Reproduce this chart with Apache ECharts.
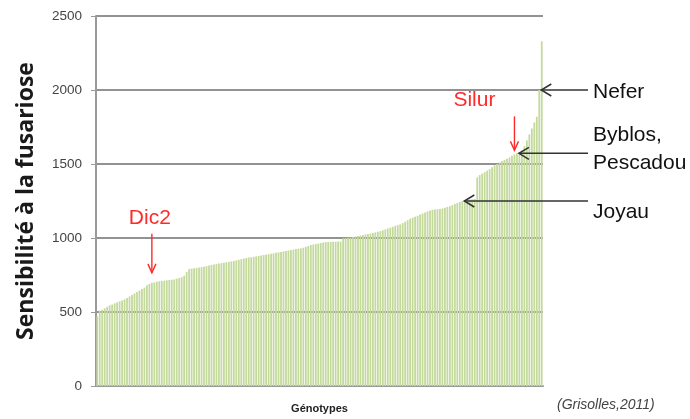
<!DOCTYPE html>
<html>
<head>
<meta charset="utf-8">
<script src="https://cdn.jsdelivr.net/npm/echarts@6/dist/echarts.min.js"></script>
<style>
  html, body { margin: 0; padding: 0; background: #fff; }
  #main { width: 690px; height: 419px; }
</style>
</head>
<body>
<div id="main"></div>
<script>
// sensibility values, genotypes sorted ascending
var values = [
    470, 510, 515, 525, 535, 545, 550, 558, 565, 572,
    578, 585, 595, 605, 615, 625, 635, 645, 655, 665,
    680, 690, 697, 700, 705, 708, 710, 712, 714, 716,
    718, 720, 725, 730, 735, 745, 770, 790, 793, 795,
    797, 800, 803, 806, 810, 814, 818, 821, 824, 827,
    830, 833, 836, 839, 842, 845, 849, 853, 857, 861,
    865, 868, 870, 873, 876, 879, 882, 885, 888, 890,
    893, 896, 900, 903, 906, 910, 913, 916, 919, 922,
    925, 928, 930, 934, 940, 946, 953, 956, 959, 962,
    966, 970, 972, 973, 974, 975, 975, 976, 976, 998,
    1000, 1002, 1004, 1006, 1010, 1013, 1016, 1020, 1024, 1027,
    1030, 1034, 1038, 1042, 1046, 1052, 1058, 1064, 1070, 1075,
    1082, 1087, 1092, 1100, 1110, 1120, 1130, 1137, 1144, 1150,
    1158, 1165, 1172, 1180, 1186, 1190, 1192, 1194, 1196, 1200,
    1205, 1210, 1215, 1222, 1230, 1237, 1244, 1250, 1254, 1258,
    1260, 1262, 1265, 1410, 1425, 1435, 1445, 1455, 1465, 1478,
    1490, 1500, 1510, 1520, 1528, 1536, 1545, 1555, 1565, 1572,
    1580, 1590, 1620, 1660, 1700, 1740, 1780, 1820, 2000, 2330
];
var genotypes = values.map(function (v, i) { return 'G' + (i + 1); });
var yTicks = [0, 500, 1000, 1500, 2000, 2500];

// annotated genotypes: index in the sorted list
var notes = [
    {name: 'Dic2', index: 22, color: '#ff2a2a', side: 'top', gap: 10, len: 39, textDx: -2},
    {name: 'Silur', index: 168, color: '#ff2a2a', side: 'top', gap: 4, len: 34, textDx: -40},
    {name: 'Joyau', index: 147, color: '#111', side: 'right', textY: 212},
    {name: 'Byblos,\nPescadou', index: 169, color: '#111', side: 'right', textY: 149},
    {name: 'Nefer', index: 178, color: '#111', side: 'right', textY: 92}
];

var myChart = echarts.init(document.getElementById('main'));

var option = {
    animation: false,
    grid: {left: 96, right: 147, top: 16, bottom: 33},
    xAxis: {
        type: 'category',
        data: genotypes,
        name: 'Génotypes',
        nameLocation: 'middle',
        nameGap: 17,
        nameTextStyle: {fontFamily: 'Liberation Sans', fontWeight: 'bold', fontSize: 11, color: '#222'},
        axisLine: {lineStyle: {color: '#9a9a9a', width: 2}},
        axisTick: {show: false},
        axisLabel: {show: false}
    },
    yAxis: {
        type: 'value',
        min: 0,
        max: 2500,
        interval: 500,
        name: 'Sensibilité à la fusariose',
        nameLocation: 'middle',
        nameGap: 58,
        nameTextStyle: {fontFamily: 'Open Sans', fontWeight: 'bold', fontSize: 23, color: '#1a1a1a'},
        axisLine: {show: true, lineStyle: {color: '#9a9a9a', width: 2}},
        axisTick: {show: true, length: 5, lineStyle: {color: '#9a9a9a', width: 1}},
        axisLabel: {
            fontFamily: 'Liberation Sans', fontSize: 13.5, color: '#444', margin: 14,
            formatter: function (v) { return yTicks.indexOf(v) >= 0 ? String(v) : ''; }
        },
        splitLine: {lineStyle: {color: '#929292', width: 2}}
    },
    series: [{
        type: 'bar',
        data: values,
        barCategoryGap: '28%',
        itemStyle: {color: '#c4d99c'}
    }]
};
myChart.setOption(option);

// annotations with arrows, placed from the data coordinates
var graphics = [];
var textStyle = {fontFamily: 'Liberation Sans', fontSize: 21};
notes.forEach(function (n) {
    var p = myChart.convertToPixel({seriesIndex: 0}, [n.index, values[n.index]]);
    if (n.side === 'top') {
        var x = p[0], y2 = p[1] - n.gap, y1 = y2 - n.len;
        graphics.push({type: 'line', z: 100, shape: {x1: x, y1: y1, x2: x, y2: y2}, style: {stroke: n.color, lineWidth: 1.4}});
        graphics.push({type: 'polyline', z: 100, shape: {points: [[x - 4, y2 - 9], [x, y2], [x + 4, y2 - 9]]}, style: {stroke: n.color, lineWidth: 1.4, fill: null}});
        graphics.push({type: 'text', z: 100, style: Object.assign({text: n.name, fill: n.color, x: x + n.textDx, y: y1 - 16, align: 'center', verticalAlign: 'middle'}, textStyle)});
    } else {
        var xs = p[0] + 2, xe = 588, yy = p[1];
        graphics.push({type: 'line', z: 100, shape: {x1: xs, y1: yy, x2: xe, y2: yy}, style: {stroke: '#333', lineWidth: 1.5}});
        graphics.push({type: 'polyline', z: 100, shape: {points: [[xs + 10, yy - 6], [xs, yy], [xs + 10, yy + 6]]}, style: {stroke: '#333', lineWidth: 1.5, fill: null}});
        graphics.push({type: 'text', z: 100, style: Object.assign({text: n.name, fill: n.color, x: 593, y: n.textY, align: 'left', verticalAlign: 'middle', lineHeight: 28}, textStyle)});
    }
});
graphics.push({type: 'text', z: 100, style: {text: '(Grisolles,2011)', x: 557, y: 405, fill: '#444', fontFamily: 'Liberation Sans', fontStyle: 'italic', fontSize: 14, verticalAlign: 'middle'}});
myChart.setOption({graphic: graphics});
</script>
</body>
</html>
